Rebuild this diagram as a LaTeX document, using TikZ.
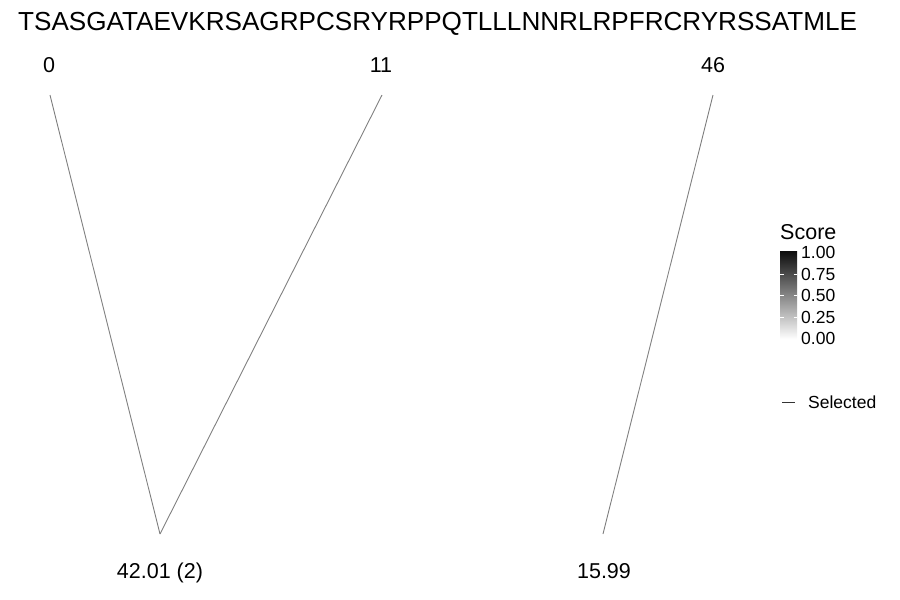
\documentclass[tikz,border=0pt]{standalone}
\usepackage{fontspec}
\setmainfont{Liberation Sans}
\begin{document}
\begin{tikzpicture}[x=1pt,y=-1pt,
  seg/.style={draw=black!50,line width=0.9pt},
  toplab/.style={anchor=base,inner sep=0pt,font=\fontsize{21.5}{24}\selectfont},
  tick/.style={anchor=west,inner sep=0pt,font=\fontsize{17.5}{20}\selectfont},
  barmark/.style={draw=white,line width=0.6pt}]
\useasboundingbox (0,0) rectangle (900,600);
\node[anchor=base west,inner sep=0pt,font=\fontsize{26.1}{30}\selectfont] (seq) at (18,30) {TSASGATAEVKRSAGRPCSRYRPPQTLLLNNRLRPFRCRYRSSATMLE};
% top labels
\node[toplab] (l0) at (49,72) {0};
\node[toplab] (l11) at (381,72) {11};
\node[toplab] (l46) at (713,72) {46};
% bottom labels
\node[toplab] (b1) at (160,578) {42.01 (2)};
\node[toplab] (b2) at (604,578) {15.99};
% end points
\coordinate (p0) at (50,95);
\coordinate (p11) at (382,95);
\coordinate (p46) at (713,95);
\coordinate (q1) at (160,534);
\coordinate (q2) at (603,534);
\draw[seg] (p0) -- (q1);
\draw[seg] (p11) -- (q1);
\draw[seg] (p46) -- (q2);
% legend
\node[anchor=base west,inner sep=0pt,font=\fontsize{21.5}{24}\selectfont] (score) at (780,239) {Score};
\node[inner sep=0pt,minimum width=17pt,minimum height=88pt,top color=black!95,bottom color=white,anchor=north west] (bar) at (780,251) {};
\foreach \yy in {274,295.5,317}{
  \draw[barmark] (780,\yy) -- (783.5,\yy);
  \draw[barmark] (793.5,\yy) -- (797,\yy);
}
\node[tick] (t100) at (801,252.5) {1.00};
\node[tick] (t075) at (801,274) {0.75};
\node[tick] (t050) at (801,295.5) {0.50};
\node[tick] (t025) at (801,317) {0.25};
\node[tick] (t000) at (801,338.5) {0.00};
\coordinate (s1) at (782,402);
\coordinate (s2) at (795,402);
\draw[draw=black!80,line width=0.8pt] (s1) -- (s2);
\node[tick] (sel) at (808,402) {Selected};
\end{tikzpicture}
\end{document}
